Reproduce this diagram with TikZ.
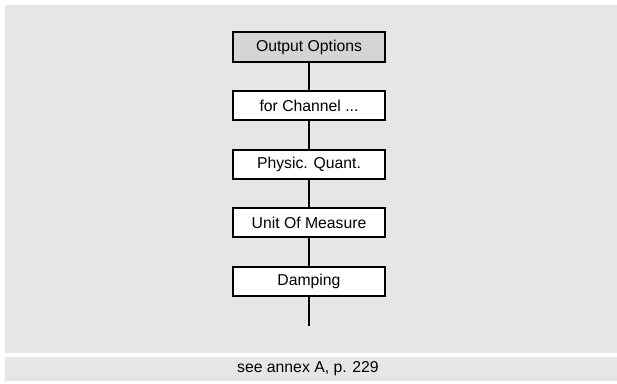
\documentclass[tikz,border=0pt]{standalone}
\usepackage{fontspec}
\setmainfont{Liberation Sans}
\usepackage{xcolor}
\definecolor{panelgray}{RGB}{230,230,230}
\definecolor{headgray}{RGB}{212,212,212}
\usepackage{tikz}
\usetikzlibrary{positioning}
\newcommand{\menufont}{\fontsize{11.2}{13}\selectfont}

\begin{document}
\begin{tikzpicture}[x=0.025cm,y=-0.025cm,
  menubox/.style={draw,line width=1.4pt,fill=white,minimum width=3.78cm,
    minimum height=0.73cm,inner sep=0pt,font=\menufont},
  link/.style={line width=1.1pt},
  node distance=0.685cm]
  % background panels
  \fill[white] (0,0) rectangle (617,383);
  \fill[panelgray] (5,5) rectangle (617,353);
  \fill[panelgray] (5,357) rectangle (617,381);
  % menu column
  \node[menubox,fill=headgray] (output) at (309,47) {Output Options};
  \node[menubox,below=of output] (channel) {for Channel ...};
  \node[menubox,below=of channel] (quant) {Physic. Quant.};
  \node[menubox,below=of quant] (unit) {Unit Of Measure};
  \node[menubox,below=of unit] (damping) {Damping};
  \coordinate[below=0.72cm of damping] (tail);
  \draw[link] (output) -- (channel);
  \draw[link] (channel) -- (quant);
  \draw[link] (quant) -- (unit);
  \draw[link] (unit) -- (damping);
  \draw[link] (damping) -- (tail);
  % footer
  \node[font=\menufont] (annex) at (308,369) {see annex A, p. 229};
\end{tikzpicture}
\end{document}
